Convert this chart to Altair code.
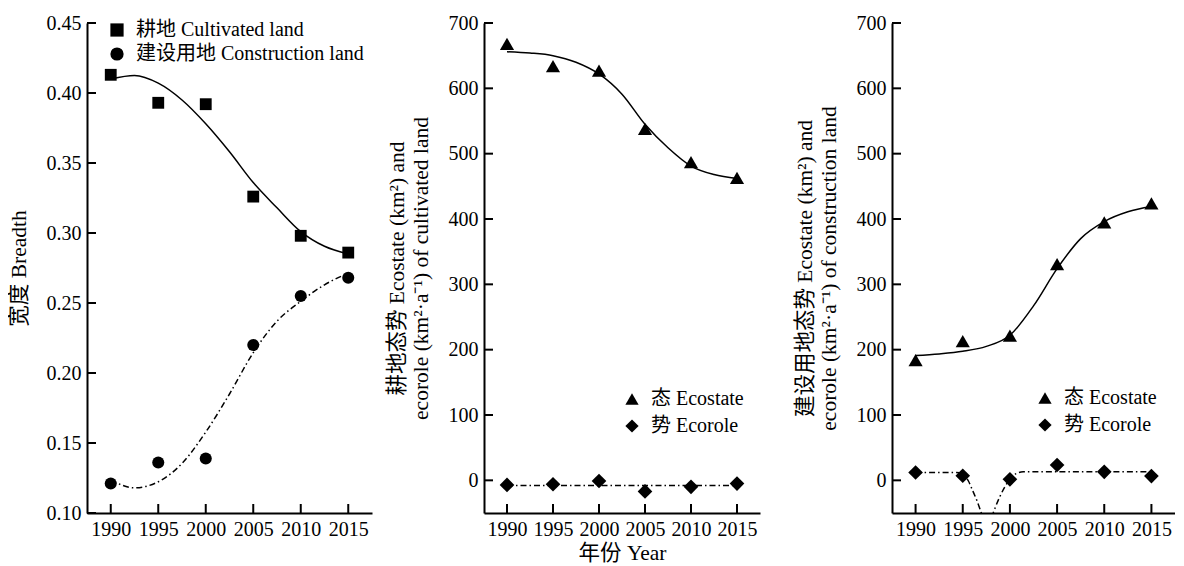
import altair as alt
import pandas as pd

FONT = "Liberation Serif, Times New Roman, Noto Sans CJK SC"
FS = 20
TFS = 21.5

# ---------------- data ----------------
years = [1990, 1995, 2000, 2005, 2010, 2015]
cultivated_breadth = [0.413, 0.393, 0.392, 0.326, 0.298, 0.286]
construction_breadth = [0.121, 0.136, 0.139, 0.220, 0.255, 0.268]

fit_years = [1990, 1992.5, 1995, 1997.5, 2000, 2002.5, 2005, 2007.5, 2010, 2012.5, 2015]
cultivated_fit = [0.410, 0.4125, 0.407, 0.395, 0.378, 0.358, 0.336, 0.318, 0.301, 0.2905, 0.285]
construction_fit = [0.1236, 0.118, 0.1223, 0.1354, 0.1578, 0.185, 0.2145, 0.237, 0.2512, 0.263, 0.2713]

cult_ecostate = [668, 634, 627, 538, 487, 463]
cult_ecorole = [-7, -6, -1, -17, -10, -5]
cult_ecostate_fit = [656, 654, 650, 640, 622, 591, 545, 509, 481, 468, 462]
cult_ecorole_fit_years = [1990, 1995, 2000, 2005, 2010, 2015]
cult_ecorole_fit = [-8, -8, -8, -8, -8, -8]

cons_ecostate = [184, 213, 221.5, 331, 395, 424]
cons_ecorole = [12, 7, 1.5, 23.5, 13, 6.5]
cons_ecostate_fit = [191, 193.5, 197.5, 205, 222, 267, 324, 370, 396, 411, 419]
cons_ecorole_fit_years = [1990, 1992, 1994, 1994.7, 1995.2, 1995.6, 1996, 1996.5, 1996.9,
                          1997.6, 1998.3, 1998.9, 1999.5, 2000, 2000.7, 2001.4, 2003, 2005, 2010, 2015]
cons_ecorole_fit = [12, 12, 12, 11.5, 7, -1, -14, -31, -47,
                    -75, -47, -26, -9, 2, 10.5, 13, 13, 13, 13, 13]

year_ticks = [1990, 1995, 2000, 2005, 2010, 2015]
breadth_ticks = [0.10, 0.15, 0.20, 0.25, 0.30, 0.35, 0.40, 0.45]
eco_ticks = [0, 100, 200, 300, 400, 500, 600, 700]

TICK = 9
DASHDOT = [6, 3, 1.5, 3]


def panel(series_names, shapes, sizes, pts_vals, fit_specs, ydomain, yticks, yfmt,
          ytitle, width, height, legend_xy, row_pad, xtitle=None):
    xscale = alt.Scale(domain=[1987.5, 2017.5], nice=False, zero=False)
    yscale = alt.Scale(domain=ydomain, nice=False, zero=False)
    xaxis = alt.Axis(values=year_ticks, format="d", tickSize=0, labelPadding=6,
                     title=xtitle if xtitle else None, titlePadding=3, grid=False)
    yaxis = alt.Axis(values=yticks, format=yfmt, tickSize=0, labelPadding=6,
                     title=ytitle, titlePadding=16, grid=False)
    shape_scale = alt.Scale(domain=series_names, range=shapes)
    legend = alt.Legend(title=None, orient="none",
                        legendX=legend_xy[0], legendY=legend_xy[1],
                        labelFont=FONT, labelFontSize=FS, labelLimit=500,
                        labelColor="black", symbolSize=175,
                        symbolFillColor="black",
                        symbolStrokeColor="black",
                        symbolStrokeWidth=0,
                        rowPadding=row_pad, labelOffset=9,
                        padding=0)

    layers = []
    for fy, fv, dash in fit_specs:
        fdf = pd.DataFrame({"year": fy, "value": fv})
        mk = dict(color="black", strokeWidth=1.5, interpolate="monotone", clip=True)
        if dash:
            mk["strokeDash"] = DASHDOT
        layers.append(
            alt.Chart(fdf).mark_line(**mk).encode(
                x=alt.X("year:Q", scale=xscale, axis=xaxis),
                y=alt.Y("value:Q", scale=yscale, axis=yaxis),
            )
        )

    for name, vals, sz in zip(series_names, pts_vals, sizes):
        sdf = pd.DataFrame({"year": years, "value": vals, "series": [name] * len(years)})
        layers.append(
            alt.Chart(sdf).mark_point(filled=True, color="black", opacity=1,
                                      strokeWidth=0, size=sz).encode(
                x=alt.X("year:Q", scale=xscale, axis=xaxis),
                y=alt.Y("value:Q", scale=yscale, axis=yaxis),
                shape=alt.Shape("series:N", scale=shape_scale, legend=legend),
            )
        )

    ytk = alt.Chart(pd.DataFrame({"value": yticks})).mark_rule(
        color="black", strokeWidth=2).encode(
        y=alt.Y("value:Q", scale=yscale, axis=yaxis),
        x=alt.value(0), x2=alt.value(TICK),
    )
    xtk = alt.Chart(pd.DataFrame({"year": year_ticks})).mark_rule(
        color="black", strokeWidth=2).encode(
        x=alt.X("year:Q", scale=xscale, axis=xaxis),
        y=alt.value(height), y2=alt.value(height - TICK),
    )
    layers += [ytk, xtk]
    return alt.layer(*layers).properties(width=width, height=height)


H = 490
p1 = panel(["耕地 Cultivated land", "建设用地 Construction land"],
           ["square", "circle"], [140, 145],
           [cultivated_breadth, construction_breadth],
           [(fit_years, cultivated_fit, False), (fit_years, construction_fit, True)],
           [0.10, 0.45], breadth_ticks, ".2f", "宽度 Breadth", 285, H, (20, -3), 4)

p2 = panel(["态 Ecostate", "势 Ecorole"], ["triangle-up", "diamond"], [200, 215],
           [cult_ecostate, cult_ecorole],
           [(fit_years, cult_ecostate_fit, False),
            (cult_ecorole_fit_years, cult_ecorole_fit, True)],
           [-50, 700], eco_ticks, "d",
           ["耕地态势 Ecostate (km²) and", "ecorole (km²·a⁻¹) of cultivated land"],
           276, H, (138, 366), 7, xtitle="年份 Year")

p3 = panel(["态 Ecostate", "势 Ecorole"], ["triangle-up", "diamond"], [200, 215],
           [cons_ecostate, cons_ecorole],
           [(fit_years, cons_ecostate_fit, False),
            (cons_ecorole_fit_years, cons_ecorole_fit, True)],
           [-50, 700], eco_ticks, "d",
           ["建设用地态势 Ecostate (km²) and", "ecorole (km²·a⁻¹) of construction land"],
           283, H, (143, 365), 7)

RES = dict(x="independent", y="independent", shape="independent")
left = alt.hconcat(p1, p2, spacing=14).resolve_scale(**RES).resolve_legend(shape="independent")
chart = alt.hconcat(left, p3, spacing=34).resolve_scale(**RES).resolve_legend(
    shape="independent"
).properties(
    padding={"left": 0, "top": 5, "right": 0, "bottom": 0}, background="white"
).configure_view(stroke=None).configure_axis(
    grid=False, domainColor="black", domainWidth=2, labelFont=FONT, labelFontSize=FS,
    labelColor="black", titleFont=FONT, titleFontSize=TFS, titleFontWeight="normal",
    titleColor="black", titleLineHeight=24, labelFlush=False, labelOverlap=False,
)

chart.save("out.html", embed_options={"renderer": "svg", "actions": False})
